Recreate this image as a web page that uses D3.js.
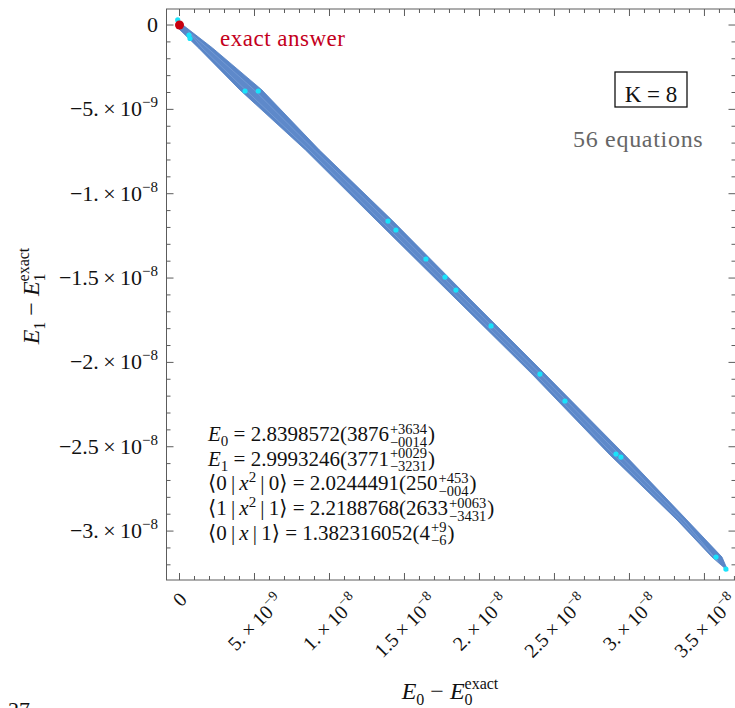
<!DOCTYPE html>
<html lang="en">
<head>
<meta charset="UTF-8">
<title>K = 8 island</title>
<script src="https://d3js.org/d3.v7.min.js"></script>
<style>
body { margin: 0; background: #fff; }
svg text { font-family: "Liberation Serif", "DejaVu Serif", serif; fill: #111; }
</style>
</head>
<body>
<div id="chart"></div>
<script>
const width = 735, height = 708

// all values in units of 1e-9
const xTicks = [0, 5, 10, 15, 20, 25, 30, 35]
const xTickLabels = [["0", ""], ["5.", "−9"], ["1.", "−8"], ["1.5", "−8"], ["2.", "−8"], ["2.5", "−8"], ["3.", "−8"], ["3.5", "−8"]]
const yTicks = [0, -5, -10, -15, -20, -25, -30]
const yTickLabels = [["0", ""], ["−5.", "−9"], ["−1.", "−8"], ["−1.5", "−8"], ["−2.", "−8"], ["−2.5", "−8"], ["−3.", "−8"]]

// outline of the allowed region (E0 - E0exact, E1 - E1exact)
const bandUpper = [[0.0, 0.15], [0.23, 0], [2.2, -1.36], [5.5, -3.85], [9.33, -7.41], [14.23, -11.62], [19.43, -16.3],
    [24.37, -20.69], [29.7, -25.49], [33.83, -29.34], [36.17, -31.54], [36.57, -32.37]]
const bandLower = [[-0.17, -0.12], [1.27, -1.36], [4.03, -3.85], [8.4, -7.41], [13.17, -11.62], [18.5, -16.3],
    [23.5, -20.69], [28.7, -25.49], [33.17, -29.34], [35.5, -31.54]]
// overlapping inner piece
const innerUpper = [[0.6, -0.4], [1.87, -1.36], [4.99, -3.85], [9.0, -7.41], [13.86, -11.62], [19.1, -16.3],
    [24.07, -20.69], [29.35, -25.49], [33.6, -29.34], [35.9, -31.8]]
const innerLower = [[1.5, -1.36], [4.4, -3.85], [8.63, -7.41], [13.43, -11.62], [18.73, -16.3], [23.72, -20.69],
    [28.95, -25.49], [33.33, -29.34]]

const cyanPoints = [[-0.12, 0.3], [0.63, -0.59], [0.7, -0.8], [4.37, -3.91], [5.25, -3.91], [13.9, -11.62], [14.43, -12.15],
    [16.43, -13.87], [17.7, -14.94], [18.43, -15.71], [20.77, -17.84], [24.03, -20.69], [25.7, -22.29],
    [29.1, -25.43], [29.43, -25.61], [35.77, -31.54], [36.43, -32.25]]
const exactPoint = [0, 0]

const fitLines = [
    {lhs: [["E", "i"], ["0", "sub"], [" = ", ""]], value: "2.8398572(3876", up: "+3634", down: "−0014"},
    {lhs: [["E", "i"], ["1", "sub"], [" = ", ""]], value: "2.9993246(3771", up: "+0029", down: "−3231"},
    {lhs: [["⟨0\u2009|\u2009", ""], ["x", "i"], ["2", "sup"], ["\u2009|\u20090⟩ = ", ""]], value: "2.0244491(250", up: "+453", down: "−004"},
    {lhs: [["⟨1\u2009|\u2009", ""], ["x", "i"], ["2", "sup"], ["\u2009|\u20091⟩ = ", ""]], value: "2.2188768(2633", up: "+0063", down: "−3431"},
    {lhs: [["⟨0\u2009|\u2009", ""], ["x", "i"], ["\u2009|\u20091⟩ = ", ""]], value: "1.382316052(4", up: "+9", down: "−6"}
]

const frame = {left: 166.5, right: 735.5, top: 9, bottom: 580}

const svg = d3.select('#chart').append('svg')
    .attr('width', width)
    .attr('height', height)

const x = d3.scaleLinear().domain([-0.867, 37.07]).range([frame.left, frame.right])
const y = d3.scaleLinear().domain([0.95, -32.9]).range([frame.top, frame.bottom])

// region
const line = d3.line().x(d => x(d[0])).y(d => y(d[1])).curve(d3.curveLinearClosed)
svg.append('path')
    .attr('d', line(bandUpper.concat(bandLower.slice().reverse())))
    .attr('fill', '#5a86c8')
    .attr('stroke', '#4f7cc0')
    .attr('stroke-width', 0.8)
svg.append('path')
    .attr('d', line(innerUpper.concat(innerLower.slice().reverse())))
    .attr('fill', '#5e89ca')
    .attr('stroke', '#93b3e3')
    .attr('stroke-opacity', 0.6)
    .attr('stroke-width', 0.7)

svg.append('g').selectAll('circle')
    .data(cyanPoints)
    .enter()
    .append('circle')
    .attr('cx', d => x(d[0]))
    .attr('cy', d => y(d[1]))
    .attr('r', 2.6)
    .attr('fill', '#19e3fb')

svg.append('circle')
    .attr('cx', x(exactPoint[0]))
    .attr('cy', y(exactPoint[1]))
    .attr('r', 4.5)
    .attr('fill', '#c8000f')

// frame + ticks
const axisColor = '#5c5c5c'
svg.append('rect')
    .attr('x', frame.left).attr('y', frame.top)
    .attr('width', frame.right - frame.left)
    .attr('height', frame.bottom - frame.top)
    .attr('fill', 'none')
    .attr('stroke', axisColor)
    .attr('stroke-width', 1)

const tickG = svg.append('g').attr('stroke', axisColor).attr('stroke-width', 1)
d3.range(0, 38).forEach(function(i) {
    const len = i % 5 === 0 ? 7 : 4
    const px = x(i)
    tickG.append('line').attr('x1', px).attr('x2', px).attr('y1', frame.bottom).attr('y2', frame.bottom - len)
    tickG.append('line').attr('x1', px).attr('x2', px).attr('y1', frame.top).attr('y2', frame.top + len)
})
d3.range(0, 33).forEach(function(i) {
    const len = i % 5 === 0 ? 7 : 4
    const py = y(-i)
    tickG.append('line').attr('y1', py).attr('y2', py).attr('x1', frame.left).attr('x2', frame.left + len)
    tickG.append('line').attr('y1', py).attr('y2', py).attr('x1', frame.right).attr('x2', frame.right - len)
})

function tickText(sel, lab, supSize) {
    if (lab[1] === "") {
        sel.text(lab[0])
        return
    }
    sel.append('tspan').text(lab[0] + "\u2009×\u200910")
    sel.append('tspan').attr('font-size', supSize).attr('dy', -9).text(lab[1])
}

yTicks.forEach(function(v, i) {
    const t = svg.append('text')
        .attr('x', 158)
        .attr('y', y(v) + 7)
        .attr('text-anchor', 'end')
        .attr('font-size', 22)
    tickText(t, yTickLabels[i], 15)
})

// rotated x labels: box centred on the tick, top just under the frame
xTicks.forEach(function(v, i) {
    const g = svg.append('g')
    const t = g.append('text')
        .attr('text-anchor', 'middle')
        .attr('font-size', 20)
    tickText(t, xTickLabels[i], 14)
    g.attr('transform', 'rotate(-45)')
    const r = g.node().getBoundingClientRect()
    const dx = x(v) - (r.left + r.width / 2)
    const dy = 588 - r.top
    g.attr('transform', 'translate(' + dx + ',' + dy + ') rotate(-45)')
})

// axis titles
function axisTitle(sel, idx) {
    sel.append('tspan').attr('font-style', 'italic').text('E')
    sel.append('tspan').attr('font-size', 16).attr('dy', 6).text(idx)
    sel.append('tspan').attr('dy', -6).text(' − ')
    sel.append('tspan').attr('font-style', 'italic').text('E')
    sel.append('tspan').attr('font-size', 16).attr('dy', 6).text(idx)
    sel.append('tspan').attr('font-size', 16).attr('dx', -8).attr('dy', -16).text('exact')
}
axisTitle(svg.append('text')
    .attr('x', 450).attr('y', 699)
    .attr('text-anchor', 'middle')
    .attr('font-size', 24), '0')

axisTitle(svg.append('g')
    .attr('transform', 'translate(39,296) rotate(-90)')
    .append('text')
    .attr('text-anchor', 'middle')
    .attr('font-size', 24), '1')

// annotations
svg.append('text')
    .attr('x', 220).attr('y', 46)
    .attr('font-size', 23)
    .attr('letter-spacing', 0.5)
    .style('fill', '#c4001c')
    .text('exact answer')

svg.append('rect')
    .attr('x', 615).attr('y', 72)
    .attr('width', 72).attr('height', 35)
    .attr('fill', 'none')
    .attr('stroke', '#111')
    .attr('stroke-width', 1.3)
svg.append('text')
    .attr('x', 651).attr('y', 102)
    .attr('text-anchor', 'middle')
    .attr('font-size', 23)
    .text('K = 8')
svg.append('text')
    .attr('x', 573).attr('y', 147)
    .attr('font-size', 24)
    .attr('letter-spacing', 0.7)
    .style('fill', '#666')
    .text('56 equations')

// fitted values
fitLines.forEach(function(d, i) {
    const base = 441 + i * 24.7
    const t = svg.append('text')
        .attr('x', 208).attr('y', base)
        .attr('font-size', 21)
    let shift = 0
    d.lhs.forEach(function(p) {
        const sp = t.append('tspan').text(p[0])
        if (p[1] === 'i') sp.attr('font-style', 'italic')
        if (p[1] === 'sub') { sp.attr('font-size', 15).attr('dy', 5 - shift); shift = 5 }
        else if (p[1] === 'sup') { sp.attr('font-size', 15).attr('dy', -8 - shift); shift = -8 }
        else if (shift !== 0) { sp.attr('dy', -shift); shift = 0 }
    })
    t.append('tspan').text(d.value)
    const w = t.node().getComputedTextLength()
    const up = svg.append('text').attr('x', 208 + w + 1).attr('y', base - 7.5).attr('font-size', 14.5).text(d.up)
    const dn = svg.append('text').attr('x', 208 + w + 1).attr('y', base + 5.5).attr('font-size', 14.5).text(d.down)
    const sw = Math.max(up.node().getComputedTextLength(), dn.node().getComputedTextLength())
    svg.append('text').attr('x', 208 + w + 2 + sw).attr('y', base).attr('font-size', 21).text(')')
})

svg.append('text')
    .attr('x', 8).attr('y', 717)
    .attr('font-size', 22)
    .text('27')
</script>
</body>
</html>
